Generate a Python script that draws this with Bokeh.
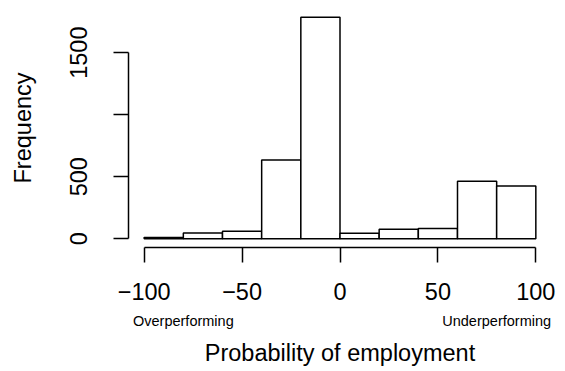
from bokeh.plotting import figure
from bokeh.models import Range1d, FixedTicker, LinearAxis
from bokeh.embed import file_html
from bokeh.resources import INLINE

# Histogram of employment-probability differences, bins of width 20
bin_edges = [-100, -80, -60, -40, -20, 0, 20, 40, 60, 80, 100]
counts = [9, 45, 59, 634, 1785, 43, 75, 81, 462, 425]

x_ticks = [-100, -50, 0, 50, 100]
x_tick_labels = ["\u2212100", "\u221250", "0", "50", "100"]
y_ticks = [0, 500, 1000, 1500]
y_tick_labels = ["0", "500", "", "1500"]   # 1000 label dropped (overlap)

side_positions = [-80, 80]
side_labels = ["Overperforming", "Underperforming"]

FONT = "Liberation Sans"
ymax = max(counts)

p = figure(
    width=565, height=371,
    output_backend="svg", toolbar_location=None,
    x_range=Range1d(-108, 108),
    y_range=Range1d(-0.04 * ymax, 1.04 * ymax),
    min_border_left=128, min_border_right=14,
    min_border_top=8, min_border_bottom=124,
)
p.outline_line_color = None
p.xgrid.visible = False
p.ygrid.visible = False
p.background_fill_color = "white"
p.border_fill_color = "white"

p.quad(
    left=bin_edges[:-1], right=bin_edges[1:],
    bottom=[0] * len(counts), top=counts,
    fill_color="white", line_color="black", line_width=1.5,
)


def style_axis(ax, ticks, labels, font_size):
    ax.ticker = FixedTicker(ticks=ticks)
    ax.major_label_overrides = {t: s for t, s in zip(ticks, labels)}
    ax.minor_tick_line_color = None
    ax.major_label_text_font = FONT
    ax.major_label_text_font_size = font_size
    ax.major_label_text_color = "black"
    ax.axis_label_text_font = FONT
    ax.axis_label_text_font_size = "23.5px"
    ax.axis_label_text_font_style = "normal"
    ax.axis_label_text_color = "black"


for ax, ticks, labels, lo, hi in (
    (p.xaxis[0], x_ticks, x_tick_labels, -100, 100),
    (p.yaxis[0], y_ticks, y_tick_labels, 0, 1500),
):
    style_axis(ax, ticks, labels, "23.5px")
    ax.bounds = (lo, hi)
    ax.axis_line_width = 1.5
    ax.major_tick_line_width = 1.5
    ax.major_tick_out = 15
    ax.major_tick_in = 0

p.xaxis[0].major_label_standoff = 20

p.yaxis.axis_label = "Frequency"
p.yaxis.major_label_orientation = "vertical"
p.yaxis.major_label_standoff = 26
p.yaxis.axis_label_standoff = 32

# second row under the x axis: direction captions and the axis title
side_axis = LinearAxis()
style_axis(side_axis, side_positions, side_labels, "14.5px")
side_axis.axis_line_color = None
side_axis.major_tick_line_color = None
side_axis.major_tick_out = 0
side_axis.major_tick_in = 0
side_axis.major_label_standoff = 10
side_axis.axis_label = "Probability of employment"
side_axis.axis_label_standoff = 8
p.add_layout(side_axis, "below")

open("out.html", "w").write(file_html(p, INLINE))
